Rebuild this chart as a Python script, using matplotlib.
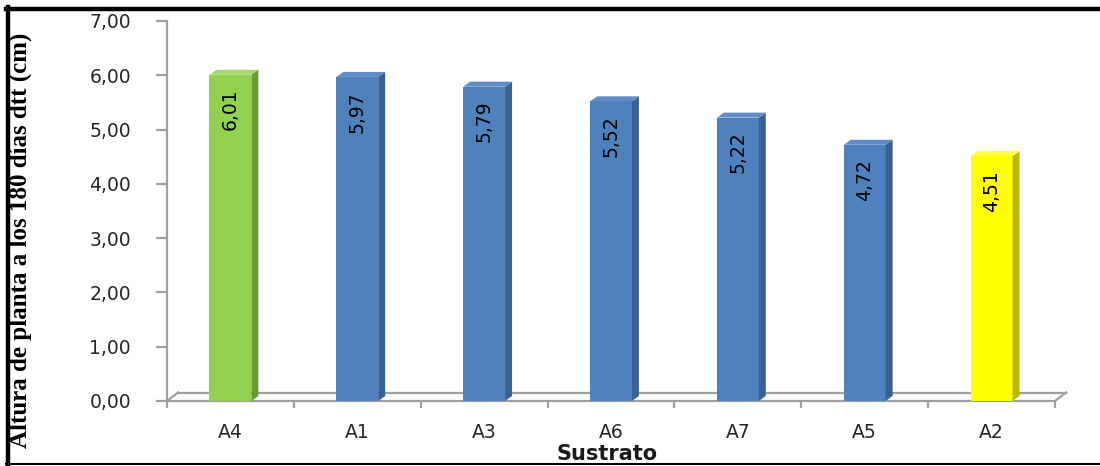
import matplotlib
matplotlib.use("Agg")
import matplotlib.pyplot as plt
from matplotlib.patches import Polygon
from matplotlib.lines import Line2D

# Plant height at 180 days after transplant, by substrate
categories = ["A4", "A1", "A3", "A6", "A7", "A5", "A2"]
heights = [6.01, 5.97, 5.79, 5.52, 5.22, 4.72, 4.51]
y_ticks = [0, 1, 2, 3, 4, 5, 6, 7]

FRONT = {"green": "#92D050", "blue": "#4F81BD", "yellow": "#FFFF00"}
SIDE = {"green": "#6A9A34", "blue": "#3A6195", "yellow": "#B8B800"}
TOP = {"green": "#A3DA6A", "blue": "#5F8CC6", "yellow": "#FFFF40"}
bar_tone = ["green", "blue", "blue", "blue", "blue", "blue", "yellow"]

W, H = 1100, 466
fig = plt.figure(figsize=(W / 100, H / 100), dpi=100)
ax = fig.add_axes([167 / W, 65 / H, 888 / W, 380 / H])
ax.set_xlim(-0.5, len(categories) - 0.5)
ax.set_ylim(0, 7)

px_x = (len(categories)) / 888.0   # data units per pixel, x
px_y = 7.0 / 380.0                 # data units per pixel, y

axis_grey = "#A0A0A0"

# floor of the 3-D plot area
fdx, fdy = 11 * px_x, 8.5 * px_y
x0, x1 = -0.5, len(categories) - 0.5
floor = [
    ([x0, x1], [0, 0]),
    ([x0 + fdx, x1 + fdx], [fdy, fdy]),
    ([x0, x0 + fdx], [0, fdy]),
    ([x1, x1 + fdx], [0, fdy]),
]
for xs, ys in floor:
    ax.add_line(Line2D(xs, ys, color=axis_grey, lw=1.6, clip_on=False, zorder=1))

# 3-D columns: front face, right side and top
bw = 0.33
dx, dy = 7 * px_x, 5 * px_y
for i, (v, tone) in enumerate(zip(heights, bar_tone)):
    l, r = i - bw / 2, i + bw / 2
    ax.bar(i, v, width=bw, color=FRONT[tone], zorder=3)
    ax.add_patch(Polygon([(r, 0), (r + dx, dy), (r + dx, v + dy), (r, v)],
                         closed=True, facecolor=SIDE[tone], edgecolor="none",
                         zorder=3, clip_on=False))
    ax.add_patch(Polygon([(l, v), (l + dx, v + dy), (r + dx, v + dy), (r, v)],
                         closed=True, facecolor=TOP[tone], edgecolor="none",
                         zorder=3, clip_on=False))
    ax.annotate(f"{v:.2f}".replace(".", ","), (i, v), xytext=(0, -14),
                textcoords="offset pixels", rotation=90, ha="center", va="top",
                fontsize=13.5, family="DejaVu Sans", color="black", zorder=5)

# axes styling
for s in ["top", "right", "bottom"]:
    ax.spines[s].set_visible(False)
ax.spines["left"].set_color(axis_grey)
ax.spines["left"].set_linewidth(1.6)

ax.set_yticks(y_ticks)
ax.set_yticklabels([f"{t:.2f}".replace(".", ",") for t in y_ticks])
ax.tick_params(axis="y", direction="out", length=8, width=1.6, color=axis_grey,
               pad=18, labelsize=13.5, labelcolor="#262626")

ax.set_xticks([k - 0.5 for k in range(len(categories) + 1)])
ax.set_xticklabels([])
ax.set_xticks(range(len(categories)), minor=True)
ax.set_xticklabels(categories, minor=True)
ax.tick_params(axis="x", which="major", direction="out", length=5, width=1.6,
               color=axis_grey)
ax.tick_params(axis="x", which="minor", length=0, pad=16, labelsize=13.5,
               labelcolor="#262626")
for lab in ax.get_xticklabels(minor=True) + ax.get_yticklabels():
    lab.set_family("DejaVu Sans")

fig.text(20 / W, 1 - 240 / H, "Altura de planta a los 180 días dtt (cm)",
         rotation=90, ha="center", va="center", family="Liberation Serif",
         fontweight="bold", fontsize=18)
fig.text(607 / W, 1 - 454 / H, "Sustrato", ha="center", va="center",
         family="DejaVu Sans", fontweight="bold", fontsize=15, color="#1a1a1a")

# frame around the figure
fig.add_artist(Line2D([6 / W, 1], [1 - 9 / H, 1 - 9 / H], color="black",
                      lw=3.2, transform=fig.transFigure))
fig.add_artist(Line2D([8 / W, 8 / W], [1 - 7 / H, 1 - 464 / H], color="black",
                      lw=3.2, transform=fig.transFigure))
fig.add_artist(Line2D([6 / W, 1], [1 - 464 / H, 1 - 464 / H], color="black",
                      lw=1.5, transform=fig.transFigure))

fig.savefig("out.png", dpi=100)
